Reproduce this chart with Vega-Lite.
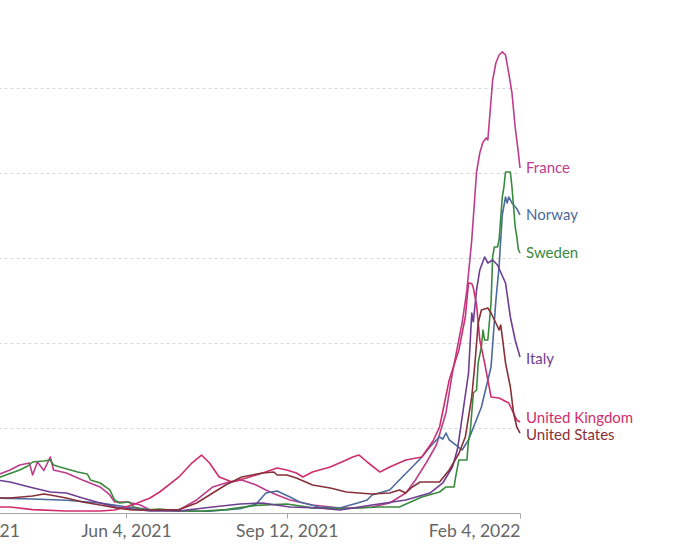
{
  "$schema": "https://vega.github.io/schema/vega-lite/v6.json",
  "width": 600,
  "height": 462,
  "autosize": {"type": "none"},
  "padding": {"left": -80, "top": 51, "right": 160, "bottom": 43},
  "background": "white",
  "config": {"view": {"stroke": null}, "font": "Lato", "text": {"font": "Lato"}},
  "data": {"values": [
    {"country": "France", "date": "2021-03-16", "value": 447},
    {"country": "France", "date": "2021-03-24", "value": 506},
    {"country": "France", "date": "2021-03-30", "value": 565},
    {"country": "France", "date": "2021-04-05", "value": 588},
    {"country": "France", "date": "2021-04-07", "value": 447},
    {"country": "France", "date": "2021-04-10", "value": 600},
    {"country": "France", "date": "2021-04-14", "value": 500},
    {"country": "France", "date": "2021-04-18", "value": 659},
    {"country": "France", "date": "2021-04-20", "value": 506},
    {"country": "France", "date": "2021-04-28", "value": 471},
    {"country": "France", "date": "2021-05-08", "value": 388},
    {"country": "France", "date": "2021-05-19", "value": 306},
    {"country": "France", "date": "2021-05-25", "value": 212},
    {"country": "France", "date": "2021-05-28", "value": 129},
    {"country": "France", "date": "2021-06-05", "value": 129},
    {"country": "France", "date": "2021-06-13", "value": 94},
    {"country": "France", "date": "2021-06-19", "value": 35},
    {"country": "France", "date": "2021-07-07", "value": 35},
    {"country": "France", "date": "2021-07-18", "value": 153},
    {"country": "France", "date": "2021-07-28", "value": 306},
    {"country": "France", "date": "2021-08-07", "value": 365},
    {"country": "France", "date": "2021-08-15", "value": 388},
    {"country": "France", "date": "2021-08-24", "value": 329},
    {"country": "France", "date": "2021-08-30", "value": 271},
    {"country": "France", "date": "2021-09-06", "value": 212},
    {"country": "France", "date": "2021-09-14", "value": 153},
    {"country": "France", "date": "2021-09-28", "value": 94},
    {"country": "France", "date": "2021-10-15", "value": 59},
    {"country": "France", "date": "2021-10-26", "value": 59},
    {"country": "France", "date": "2021-11-04", "value": 71},
    {"country": "France", "date": "2021-11-15", "value": 118},
    {"country": "France", "date": "2021-11-25", "value": 235},
    {"country": "France", "date": "2021-12-01", "value": 388},
    {"country": "France", "date": "2021-12-08", "value": 600},
    {"country": "France", "date": "2021-12-14", "value": 800},
    {"country": "France", "date": "2021-12-20", "value": 1180},
    {"country": "France", "date": "2021-12-24", "value": 1650},
    {"country": "France", "date": "2021-12-30", "value": 2235},
    {"country": "France", "date": "2022-01-02", "value": 2624},
    {"country": "France", "date": "2022-01-04", "value": 3012},
    {"country": "France", "date": "2022-01-05", "value": 3212},
    {"country": "France", "date": "2022-01-08", "value": 4012},
    {"country": "France", "date": "2022-01-10", "value": 4235},
    {"country": "France", "date": "2022-01-12", "value": 4365},
    {"country": "France", "date": "2022-01-14", "value": 4412},
    {"country": "France", "date": "2022-01-15", "value": 4388},
    {"country": "France", "date": "2022-01-16", "value": 4624},
    {"country": "France", "date": "2022-01-18", "value": 5094},
    {"country": "France", "date": "2022-01-20", "value": 5294},
    {"country": "France", "date": "2022-01-22", "value": 5388},
    {"country": "France", "date": "2022-01-24", "value": 5424},
    {"country": "France", "date": "2022-01-26", "value": 5388},
    {"country": "France", "date": "2022-01-28", "value": 5176},
    {"country": "France", "date": "2022-01-30", "value": 4941},
    {"country": "France", "date": "2022-02-01", "value": 4541},
    {"country": "France", "date": "2022-02-03", "value": 4235},
    {"country": "France", "date": "2022-02-04", "value": 4059},

    {"country": "Norway", "date": "2021-03-16", "value": 176},
    {"country": "Norway", "date": "2021-04-07", "value": 165},
    {"country": "Norway", "date": "2021-04-28", "value": 150},
    {"country": "Norway", "date": "2021-05-19", "value": 118},
    {"country": "Norway", "date": "2021-06-05", "value": 71},
    {"country": "Norway", "date": "2021-06-19", "value": 40},
    {"country": "Norway", "date": "2021-07-07", "value": 25},
    {"country": "Norway", "date": "2021-07-26", "value": 20},
    {"country": "Norway", "date": "2021-08-14", "value": 50},
    {"country": "Norway", "date": "2021-08-24", "value": 106},
    {"country": "Norway", "date": "2021-08-30", "value": 235},
    {"country": "Norway", "date": "2021-09-06", "value": 259},
    {"country": "Norway", "date": "2021-09-14", "value": 188},
    {"country": "Norway", "date": "2021-09-20", "value": 129},
    {"country": "Norway", "date": "2021-10-02", "value": 71},
    {"country": "Norway", "date": "2021-10-15", "value": 59},
    {"country": "Norway", "date": "2021-10-26", "value": 118},
    {"country": "Norway", "date": "2021-11-01", "value": 153},
    {"country": "Norway", "date": "2021-11-04", "value": 212},
    {"country": "Norway", "date": "2021-11-15", "value": 271},
    {"country": "Norway", "date": "2021-11-21", "value": 388},
    {"country": "Norway", "date": "2021-11-29", "value": 541},
    {"country": "Norway", "date": "2021-12-05", "value": 659},
    {"country": "Norway", "date": "2021-12-10", "value": 776},
    {"country": "Norway", "date": "2021-12-14", "value": 859},
    {"country": "Norway", "date": "2021-12-16", "value": 894},
    {"country": "Norway", "date": "2021-12-18", "value": 870},
    {"country": "Norway", "date": "2021-12-20", "value": 941},
    {"country": "Norway", "date": "2021-12-22", "value": 860},
    {"country": "Norway", "date": "2021-12-26", "value": 800},
    {"country": "Norway", "date": "2021-12-30", "value": 741},
    {"country": "Norway", "date": "2022-01-03", "value": 859},
    {"country": "Norway", "date": "2022-01-11", "value": 1247},
    {"country": "Norway", "date": "2022-01-17", "value": 1718},
    {"country": "Norway", "date": "2022-01-20", "value": 2500},
    {"country": "Norway", "date": "2022-01-22", "value": 2900},
    {"country": "Norway", "date": "2022-01-23", "value": 3212},
    {"country": "Norway", "date": "2022-01-24", "value": 3506},
    {"country": "Norway", "date": "2022-01-26", "value": 3718},
    {"country": "Norway", "date": "2022-01-27", "value": 3647},
    {"country": "Norway", "date": "2022-01-28", "value": 3718},
    {"country": "Norway", "date": "2022-01-30", "value": 3647},
    {"country": "Norway", "date": "2022-02-02", "value": 3580},
    {"country": "Norway", "date": "2022-02-04", "value": 3506},

    {"country": "Sweden", "date": "2021-03-16", "value": 410},
    {"country": "Sweden", "date": "2021-03-30", "value": 506},
    {"country": "Sweden", "date": "2021-04-04", "value": 553},
    {"country": "Sweden", "date": "2021-04-07", "value": 600},
    {"country": "Sweden", "date": "2021-04-14", "value": 612},
    {"country": "Sweden", "date": "2021-04-18", "value": 624},
    {"country": "Sweden", "date": "2021-04-20", "value": 565},
    {"country": "Sweden", "date": "2021-04-24", "value": 541},
    {"country": "Sweden", "date": "2021-05-05", "value": 482},
    {"country": "Sweden", "date": "2021-05-11", "value": 459},
    {"country": "Sweden", "date": "2021-05-13", "value": 388},
    {"country": "Sweden", "date": "2021-05-19", "value": 353},
    {"country": "Sweden", "date": "2021-05-25", "value": 271},
    {"country": "Sweden", "date": "2021-05-28", "value": 153},
    {"country": "Sweden", "date": "2021-05-31", "value": 118},
    {"country": "Sweden", "date": "2021-06-06", "value": 129},
    {"country": "Sweden", "date": "2021-06-09", "value": 71},
    {"country": "Sweden", "date": "2021-06-16", "value": 35},
    {"country": "Sweden", "date": "2021-06-25", "value": 47},
    {"country": "Sweden", "date": "2021-07-07", "value": 25},
    {"country": "Sweden", "date": "2021-07-20", "value": 20},
    {"country": "Sweden", "date": "2021-08-05", "value": 40},
    {"country": "Sweden", "date": "2021-08-24", "value": 90},
    {"country": "Sweden", "date": "2021-09-12", "value": 106},
    {"country": "Sweden", "date": "2021-09-28", "value": 60},
    {"country": "Sweden", "date": "2021-10-15", "value": 50},
    {"country": "Sweden", "date": "2021-11-09", "value": 71},
    {"country": "Sweden", "date": "2021-11-21", "value": 71},
    {"country": "Sweden", "date": "2021-12-05", "value": 188},
    {"country": "Sweden", "date": "2021-12-16", "value": 247},
    {"country": "Sweden", "date": "2021-12-20", "value": 306},
    {"country": "Sweden", "date": "2021-12-25", "value": 306},
    {"country": "Sweden", "date": "2021-12-26", "value": 424},
    {"country": "Sweden", "date": "2021-12-28", "value": 624},
    {"country": "Sweden", "date": "2022-01-02", "value": 624},
    {"country": "Sweden", "date": "2022-01-03", "value": 859},
    {"country": "Sweden", "date": "2022-01-04", "value": 941},
    {"country": "Sweden", "date": "2022-01-06", "value": 1412},
    {"country": "Sweden", "date": "2022-01-08", "value": 1447},
    {"country": "Sweden", "date": "2022-01-09", "value": 1765},
    {"country": "Sweden", "date": "2022-01-11", "value": 1953},
    {"country": "Sweden", "date": "2022-01-12", "value": 2153},
    {"country": "Sweden", "date": "2022-01-13", "value": 2035},
    {"country": "Sweden", "date": "2022-01-15", "value": 2035},
    {"country": "Sweden", "date": "2022-01-17", "value": 2471},
    {"country": "Sweden", "date": "2022-01-18", "value": 3012},
    {"country": "Sweden", "date": "2022-01-19", "value": 3129},
    {"country": "Sweden", "date": "2022-01-21", "value": 3129},
    {"country": "Sweden", "date": "2022-01-22", "value": 3212},
    {"country": "Sweden", "date": "2022-01-24", "value": 3718},
    {"country": "Sweden", "date": "2022-01-25", "value": 3835},
    {"country": "Sweden", "date": "2022-01-26", "value": 4012},
    {"country": "Sweden", "date": "2022-01-29", "value": 4012},
    {"country": "Sweden", "date": "2022-01-30", "value": 3835},
    {"country": "Sweden", "date": "2022-01-31", "value": 3600},
    {"country": "Sweden", "date": "2022-02-01", "value": 3365},
    {"country": "Sweden", "date": "2022-02-02", "value": 3250},
    {"country": "Sweden", "date": "2022-02-03", "value": 3100},
    {"country": "Sweden", "date": "2022-02-04", "value": 3059},

    {"country": "Italy", "date": "2021-03-16", "value": 388},
    {"country": "Italy", "date": "2021-03-24", "value": 365},
    {"country": "Italy", "date": "2021-04-05", "value": 306},
    {"country": "Italy", "date": "2021-04-18", "value": 247},
    {"country": "Italy", "date": "2021-04-28", "value": 235},
    {"country": "Italy", "date": "2021-05-08", "value": 176},
    {"country": "Italy", "date": "2021-05-19", "value": 118},
    {"country": "Italy", "date": "2021-05-29", "value": 71},
    {"country": "Italy", "date": "2021-06-08", "value": 47},
    {"country": "Italy", "date": "2021-06-19", "value": 24},
    {"country": "Italy", "date": "2021-07-07", "value": 24},
    {"country": "Italy", "date": "2021-07-28", "value": 71},
    {"country": "Italy", "date": "2021-08-14", "value": 106},
    {"country": "Italy", "date": "2021-08-28", "value": 118},
    {"country": "Italy", "date": "2021-09-14", "value": 71},
    {"country": "Italy", "date": "2021-10-02", "value": 59},
    {"country": "Italy", "date": "2021-10-15", "value": 35},
    {"country": "Italy", "date": "2021-11-04", "value": 94},
    {"country": "Italy", "date": "2021-11-25", "value": 153},
    {"country": "Italy", "date": "2021-12-10", "value": 235},
    {"country": "Italy", "date": "2021-12-18", "value": 353},
    {"country": "Italy", "date": "2021-12-24", "value": 541},
    {"country": "Italy", "date": "2021-12-27", "value": 741},
    {"country": "Italy", "date": "2021-12-28", "value": 859},
    {"country": "Italy", "date": "2022-01-03", "value": 1647},
    {"country": "Italy", "date": "2022-01-05", "value": 2353},
    {"country": "Italy", "date": "2022-01-06", "value": 2250},
    {"country": "Italy", "date": "2022-01-08", "value": 2624},
    {"country": "Italy", "date": "2022-01-10", "value": 2859},
    {"country": "Italy", "date": "2022-01-13", "value": 3012},
    {"country": "Italy", "date": "2022-01-15", "value": 2941},
    {"country": "Italy", "date": "2022-01-18", "value": 2976},
    {"country": "Italy", "date": "2022-01-21", "value": 2918},
    {"country": "Italy", "date": "2022-01-26", "value": 2706},
    {"country": "Italy", "date": "2022-01-29", "value": 2306},
    {"country": "Italy", "date": "2022-02-01", "value": 2035},
    {"country": "Italy", "date": "2022-02-04", "value": 1835},

    {"country": "United Kingdom", "date": "2021-03-16", "value": 71},
    {"country": "United Kingdom", "date": "2021-03-24", "value": 71},
    {"country": "United Kingdom", "date": "2021-04-07", "value": 40},
    {"country": "United Kingdom", "date": "2021-04-28", "value": 24},
    {"country": "United Kingdom", "date": "2021-05-19", "value": 24},
    {"country": "United Kingdom", "date": "2021-05-28", "value": 35},
    {"country": "United Kingdom", "date": "2021-06-08", "value": 94},
    {"country": "United Kingdom", "date": "2021-06-19", "value": 176},
    {"country": "United Kingdom", "date": "2021-06-25", "value": 247},
    {"country": "United Kingdom", "date": "2021-07-07", "value": 424},
    {"country": "United Kingdom", "date": "2021-07-15", "value": 588},
    {"country": "United Kingdom", "date": "2021-07-21", "value": 682},
    {"country": "United Kingdom", "date": "2021-07-26", "value": 588},
    {"country": "United Kingdom", "date": "2021-08-01", "value": 424},
    {"country": "United Kingdom", "date": "2021-08-09", "value": 365},
    {"country": "United Kingdom", "date": "2021-08-18", "value": 412},
    {"country": "United Kingdom", "date": "2021-08-28", "value": 471},
    {"country": "United Kingdom", "date": "2021-09-06", "value": 529},
    {"country": "United Kingdom", "date": "2021-09-12", "value": 506},
    {"country": "United Kingdom", "date": "2021-09-18", "value": 471},
    {"country": "United Kingdom", "date": "2021-09-22", "value": 424},
    {"country": "United Kingdom", "date": "2021-09-28", "value": 482},
    {"country": "United Kingdom", "date": "2021-10-09", "value": 541},
    {"country": "United Kingdom", "date": "2021-10-19", "value": 624},
    {"country": "United Kingdom", "date": "2021-10-23", "value": 659},
    {"country": "United Kingdom", "date": "2021-10-27", "value": 682},
    {"country": "United Kingdom", "date": "2021-11-01", "value": 600},
    {"country": "United Kingdom", "date": "2021-11-09", "value": 482},
    {"country": "United Kingdom", "date": "2021-11-15", "value": 541},
    {"country": "United Kingdom", "date": "2021-11-25", "value": 624},
    {"country": "United Kingdom", "date": "2021-12-05", "value": 659},
    {"country": "United Kingdom", "date": "2021-12-12", "value": 850},
    {"country": "United Kingdom", "date": "2021-12-16", "value": 1012},
    {"country": "United Kingdom", "date": "2021-12-22", "value": 1565},
    {"country": "United Kingdom", "date": "2021-12-28", "value": 1918},
    {"country": "United Kingdom", "date": "2022-01-01", "value": 2306},
    {"country": "United Kingdom", "date": "2022-01-03", "value": 2706},
    {"country": "United Kingdom", "date": "2022-01-05", "value": 2700},
    {"country": "United Kingdom", "date": "2022-01-06", "value": 2647},
    {"country": "United Kingdom", "date": "2022-01-08", "value": 2450},
    {"country": "United Kingdom", "date": "2022-01-10", "value": 2035},
    {"country": "United Kingdom", "date": "2022-01-13", "value": 1765},
    {"country": "United Kingdom", "date": "2022-01-15", "value": 1565},
    {"country": "United Kingdom", "date": "2022-01-17", "value": 1365},
    {"country": "United Kingdom", "date": "2022-01-22", "value": 1353},
    {"country": "United Kingdom", "date": "2022-01-28", "value": 1294},
    {"country": "United Kingdom", "date": "2022-01-31", "value": 1176},
    {"country": "United Kingdom", "date": "2022-02-02", "value": 1094},
    {"country": "United Kingdom", "date": "2022-02-04", "value": 1070},

    {"country": "United States", "date": "2021-03-16", "value": 176},
    {"country": "United States", "date": "2021-03-24", "value": 176},
    {"country": "United States", "date": "2021-04-07", "value": 200},
    {"country": "United States", "date": "2021-04-14", "value": 224},
    {"country": "United States", "date": "2021-04-18", "value": 212},
    {"country": "United States", "date": "2021-04-28", "value": 176},
    {"country": "United States", "date": "2021-05-08", "value": 129},
    {"country": "United States", "date": "2021-05-19", "value": 94},
    {"country": "United States", "date": "2021-05-29", "value": 59},
    {"country": "United States", "date": "2021-06-08", "value": 35},
    {"country": "United States", "date": "2021-06-19", "value": 35},
    {"country": "United States", "date": "2021-07-07", "value": 40},
    {"country": "United States", "date": "2021-07-18", "value": 118},
    {"country": "United States", "date": "2021-07-28", "value": 235},
    {"country": "United States", "date": "2021-08-05", "value": 329},
    {"country": "United States", "date": "2021-08-15", "value": 424},
    {"country": "United States", "date": "2021-08-28", "value": 471},
    {"country": "United States", "date": "2021-09-04", "value": 482},
    {"country": "United States", "date": "2021-09-06", "value": 447},
    {"country": "United States", "date": "2021-09-12", "value": 447},
    {"country": "United States", "date": "2021-09-18", "value": 412},
    {"country": "United States", "date": "2021-09-28", "value": 329},
    {"country": "United States", "date": "2021-10-09", "value": 294},
    {"country": "United States", "date": "2021-10-19", "value": 247},
    {"country": "United States", "date": "2021-10-27", "value": 235},
    {"country": "United States", "date": "2021-11-04", "value": 224},
    {"country": "United States", "date": "2021-11-15", "value": 235},
    {"country": "United States", "date": "2021-11-21", "value": 271},
    {"country": "United States", "date": "2021-11-25", "value": 235},
    {"country": "United States", "date": "2021-11-29", "value": 306},
    {"country": "United States", "date": "2021-12-04", "value": 365},
    {"country": "United States", "date": "2021-12-16", "value": 365},
    {"country": "United States", "date": "2021-12-22", "value": 506},
    {"country": "United States", "date": "2021-12-28", "value": 700},
    {"country": "United States", "date": "2022-01-01", "value": 894},
    {"country": "United States", "date": "2022-01-05", "value": 1365},
    {"country": "United States", "date": "2022-01-07", "value": 1765},
    {"country": "United States", "date": "2022-01-09", "value": 2235},
    {"country": "United States", "date": "2022-01-11", "value": 2388},
    {"country": "United States", "date": "2022-01-15", "value": 2412},
    {"country": "United States", "date": "2022-01-17", "value": 2353},
    {"country": "United States", "date": "2022-01-20", "value": 2235},
    {"country": "United States", "date": "2022-01-22", "value": 2153},
    {"country": "United States", "date": "2022-01-23", "value": 2212},
    {"country": "United States", "date": "2022-01-24", "value": 2071},
    {"country": "United States", "date": "2022-01-26", "value": 1765},
    {"country": "United States", "date": "2022-01-29", "value": 1482},
    {"country": "United States", "date": "2022-01-31", "value": 1176},
    {"country": "United States", "date": "2022-02-02", "value": 1012},
    {"country": "United States", "date": "2022-02-04", "value": 941}
  ]},
  "encoding": {
    "x": {
      "field": "date", "type": "temporal",
      "scale": {"type": "utc", "domain": [{"year": 2021, "month": 1, "date": 27, "utc": true}, {"year": 2022, "month": 2, "date": 4, "utc": true}]},
      "axis": {
        "title": null, "grid": false,
        "labelExpr": "utcFormat(datum.value, '%b %-d, %Y')",
        "values": [{"year": 2021, "month": 1, "date": 27, "utc": true}, {"year": 2021, "month": 6, "date": 4, "utc": true}, {"year": 2021, "month": 9, "date": 12, "utc": true}, {"year": 2022, "month": 2, "date": 4, "utc": true}],
        "labelFlush": true, "labelOverlap": false, "labelFont": "Lato", "labelFontSize": 17.5, "labelColor": "#666666", "labelPadding": 4,
        "domainColor": "#a8a8a8", "tickColor": "#a8a8a8", "tickSize": 5, "domainWidth": 1
      }
    },
    "y": {
      "field": "value", "type": "quantitative",
      "scale": {"domain": [0, 5435], "nice": false},
      "axis": {"title": null, "labels": false, "ticks": false, "domain": false, "grid": true, "gridDash": [3, 3], "gridColor": "#d6d6d6", "values": [1000, 2000, 3000, 4000, 5000]}
    },
    "color": {
      "field": "country", "type": "nominal", "legend": null,
      "scale": {"domain": ["France", "Norway", "Sweden", "Italy", "United Kingdom", "United States"], "range": ["#BD3D8C", "#4C6A9C", "#3A8A3E", "#6D3E91", "#CE2E6C", "#883039"]}
    }
  },
  "layer": [
    {"mark": {"type": "line", "strokeWidth": 1.6, "strokeJoin": "round"}},
    {
      "transform": [
        {"joinaggregate": [{"op": "max", "field": "date", "as": "maxdate"}], "groupby": ["country"]},
        {"filter": "time(datum.date) === time(datum.maxdate)"}
      ],
      "mark": {"type": "text", "align": "left", "baseline": "middle", "dx": 6, "fontSize": 15, "font": "Lato",
        "dy": {"expr": "datum.country === 'United Kingdom' ? -4 : datum.country === 'United States' ? 2 : datum.country === 'Italy' ? 2 : 0"}},
      "encoding": {"text": {"field": "country"}}
    }
  ]
}
